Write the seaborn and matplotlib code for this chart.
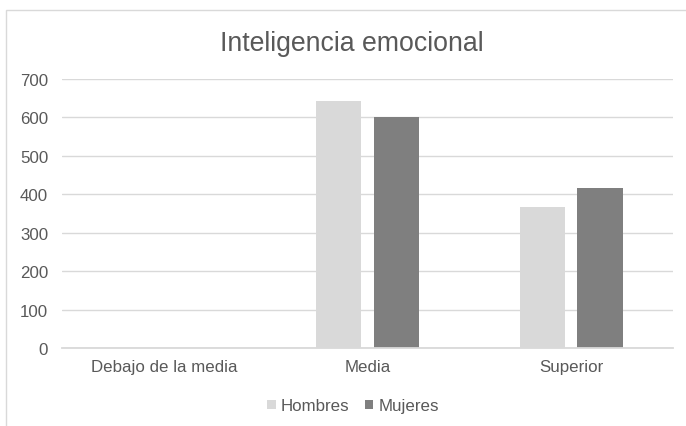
import matplotlib
matplotlib.use("Agg")
import matplotlib.pyplot as plt
import seaborn as sns
import pandas as pd
from matplotlib.patches import Rectangle, Patch

categories = ["Debajo de la media", "Media", "Superior"]
hombres = [0, 644, 367]
mujeres = [0, 601, 416]
series_names = ["Hombres", "Mujeres"]
yticks = [0, 100, 200, 300, 400, 500, 600, 700]
title = "Inteligencia emocional"

df = pd.DataFrame({
    "cat": categories * 2,
    "val": hombres + mujeres,
    "serie": [series_names[0]] * 3 + [series_names[1]] * 3,
})

sns.set_theme(style="white")
plt.rcParams["font.family"] = ["Liberation Sans", "DejaVu Sans"]

colors = {"Hombres": "#D9D9D9", "Mujeres": "#7F7F7F"}
txt = "#595959"
grid = "#D9D9D9"

fig = plt.figure(figsize=(6.86, 4.27), dpi=100)
ax = fig.add_axes([62 / 686, 1 - 349 / 427, (673 - 62) / 686, (349 - 80) / 427])

sns.barplot(data=df, x="cat", y="val", hue="serie", palette=colors,
            width=0.568, gap=0.214, ax=ax, legend=False, saturation=1,
            linewidth=0, edgecolor="none")

ax.set_ylim(0, 700)
ax.set_yticks(yticks)
ax.set_yticklabels([str(t) for t in yticks])
ax.set_xlim(-0.5, 2.5)
ax.set_xlabel("")
ax.set_ylabel("")
ax.grid(axis="y", color=grid, linewidth=1.0)
ax.set_axisbelow(True)
for s in ["top", "right", "left"]:
    ax.spines[s].set_visible(False)
ax.spines["bottom"].set_color(grid)
ax.spines["bottom"].set_linewidth(1.3)
ax.tick_params(axis="both", length=0, colors=txt, labelsize=12.2)
ax.tick_params(axis="y", pad=10)
ax.tick_params(axis="x", pad=8)

fig.text(352 / 686, 1 - 44 / 427, title, ha="center", va="center",
         fontsize=19.2, color=txt)

handles = [Patch(facecolor=colors[n], edgecolor="none", label=n) for n in series_names]
leg = fig.legend(handles=handles, loc="center", bbox_to_anchor=(353 / 686, 1 - 407 / 427),
                 ncol=2, frameon=False, fontsize=12.2, handlelength=0.5, handleheight=0.5,
                 handletextpad=0.3, columnspacing=0.9, labelcolor=txt)

fig.add_artist(Rectangle((6 / 686, -0.1), 1.2, 1 - 11 / 427 + 0.1,
                         transform=fig.transFigure, fill=False,
                         edgecolor="#D9D9D9", linewidth=1.0))

fig.savefig("out.png", dpi=100)
